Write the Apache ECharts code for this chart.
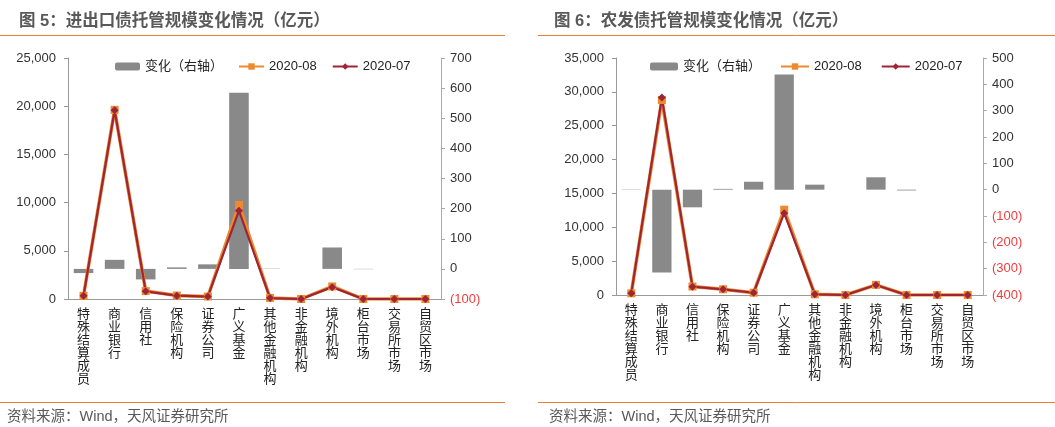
<!DOCTYPE html>
<html>
<head>
<meta charset="UTF-8">
<title>债券托管规模变化</title>
<script src="https://cdn.jsdelivr.net/npm/echarts@6/dist/echarts.min.js"></script>
<style>
  html, body { margin: 0; padding: 0; background: #fff; }
</style>
</head>
<body>
<div id="main" style="width:1055px;height:427px"></div>
<script type="text/javascript">
// 机构类别
var categories = ['特殊结算成员', '商业银行', '信用社', '保险机构', '证券公司', '广义基金',
  '其他金融机构', '非金融机构', '境外机构', '柜台市场', '交易所市场', '自贸区市场'];

// 图5 进出口债（亿元）
var exAug = [330, 19620, 820, 360, 260, 9750, 110, 0, 1300, 0, 0, 0];
var exJul = [340, 19590, 800, 350, 250, 9160, 100, 0, 1230, 0, 0, 0];
var exChg = [-14, 30, -35, 5, 15, 585, 1, 0, 71, -1, 0, 0];

// 图6 农发债（亿元）
var adAug = [250, 28800, 1250, 850, 340, 12600, 100, 0, 1500, 0, 0, 0];
var adJul = [250, 29150, 1230, 840, 330, 12080, 100, 0, 1480, 0, 0, 0];
var adChg = [1, -315, -67, 3, 30, 437, 19, 0, 47, -3, 0, 0];

var FONT = 'Arial, "Liberation Sans", "Noto Sans CJK SC", sans-serif';
var ORANGE = '#ED8A2F';
var RED = '#9E2536';
var GRAY = '#898989';

var myChart = echarts.init(document.getElementById('main'));

function thousands(v) {
  return String(v).replace(/\B(?=(\d{3})+(?!\d))/g, ',');
}
function rightLabel(v) {
  if (v < 0) return '{neg|(' + (-v) + ')}';
  return String(v);
}
function vertical(s) {
  return s.split('').join('\n');
}

function xAxisFor(idx) {
  return {
    type: 'category', gridIndex: idx, data: categories,
    axisLine: { lineStyle: { color: '#999' } },
    axisTick: { length: 5, lineStyle: { color: '#999' } },
    axisLabel: {
      interval: 0, formatter: vertical, color: '#222', fontSize: 13,
      lineHeight: 13, margin: 9, fontFamily: FONT, verticalAlign: 'top'
    }
  };
}
function leftAxisFor(idx, max) {
  return {
    type: 'value', gridIndex: idx, min: 0, max: max, interval: 5000,
    axisLine: { show: true, lineStyle: { color: '#999' } },
    axisTick: { show: true, length: 4, lineStyle: { color: '#999' } },
    splitLine: { show: false },
    axisLabel: { formatter: thousands, color: '#333', fontSize: 13, margin: 12, fontFamily: FONT }
  };
}
function rightAxisFor(idx, min, max) {
  return {
    type: 'value', gridIndex: idx, position: 'right', min: min, max: max, interval: 100,
    axisLine: { show: true, lineStyle: { color: '#aaa' } },
    axisTick: { show: true, length: 4, lineStyle: { color: '#aaa' } },
    splitLine: { show: false },
    axisLabel: {
      formatter: rightLabel, color: '#333', fontSize: 13, margin: 9, fontFamily: FONT,
      rich: { neg: { color: '#F03C3C', fontSize: 13, fontFamily: FONT } }
    }
  };
}
function seriesFor(idx, chg, aug, jul) {
  return [
    {
      name: '变化（右轴）', type: 'bar', xAxisIndex: idx, yAxisIndex: idx * 2 + 1,
      data: chg, barWidth: '63%', itemStyle: { color: GRAY }
    },
    {
      name: '2020-08', type: 'line', xAxisIndex: idx, yAxisIndex: idx * 2,
      data: aug, symbol: 'rect', symbolSize: 8,
      lineStyle: { color: ORANGE, width: 3.5 }, itemStyle: { color: ORANGE }
    },
    {
      name: '2020-07', type: 'line', xAxisIndex: idx, yAxisIndex: idx * 2,
      data: jul, symbol: 'diamond', symbolSize: 8,
      lineStyle: { color: RED, width: 2.2 }, itemStyle: { color: RED }
    }
  ];
}

var legendData = ['变化（右轴）', '2020-08', '2020-07'];
var legendBase = {
  data: legendData, top: 55, itemHeight: 8, itemWidth: 25,
  textStyle: { color: '#222', fontSize: 13, fontFamily: FONT }
};

option = {
  animation: false,
  title: [
    { text: '图 5：进出口债托管规模变化情况（亿元）', left: 14, top: 8,
      textStyle: { color: '#595959', fontSize: 16.5, fontWeight: 'bold', fontFamily: FONT } },
    { text: '图 6：农发债托管规模变化情况（亿元）', left: 549, top: 8,
      textStyle: { color: '#595959', fontSize: 16.5, fontWeight: 'bold', fontFamily: FONT } }
  ],
  legend: [
    Object.assign({}, legendBase, { left: 110, itemGap: 15 }),
    Object.assign({}, legendBase, { left: 645, itemGap: 19, itemWidth: 28 })
  ],
  grid: [
    { left: 68, right: 614, top: 58, bottom: 128 },
    { left: 616, right: 72, top: 58, bottom: 132 }
  ],
  xAxis: [xAxisFor(0), xAxisFor(1)],
  yAxis: [
    leftAxisFor(0, 25000), rightAxisFor(0, -100, 700),
    leftAxisFor(1, 35000), rightAxisFor(1, -400, 500)
  ],
  series: seriesFor(0, exChg, exAug, exJul).concat(seriesFor(1, adChg, adAug, adJul)),
  graphic: [
    { type: 'line', shape: { x1: 0, y1: 35.5, x2: 505, y2: 35.5 }, style: { stroke: '#ED7D31', lineWidth: 1 } },
    { type: 'line', shape: { x1: 538, y1: 35.5, x2: 1055, y2: 35.5 }, style: { stroke: '#ED7D31', lineWidth: 1 } },
    { type: 'line', shape: { x1: 0, y1: 402.5, x2: 505, y2: 402.5 }, style: { stroke: '#ED7D31', lineWidth: 1 } },
    { type: 'line', shape: { x1: 538, y1: 402.5, x2: 1055, y2: 402.5 }, style: { stroke: '#ED7D31', lineWidth: 1 } },
    { type: 'text', left: 7, top: 410, style: { text: '资料来源：Wind，天风证券研究所', fill: '#595959', fontSize: 14.5, fontFamily: FONT } },
    { type: 'text', left: 549, top: 410, style: { text: '资料来源：Wind，天风证券研究所', fill: '#595959', fontSize: 14.5, fontFamily: FONT } }
  ]
};

myChart.setOption(option);
</script>
</body>
</html>
